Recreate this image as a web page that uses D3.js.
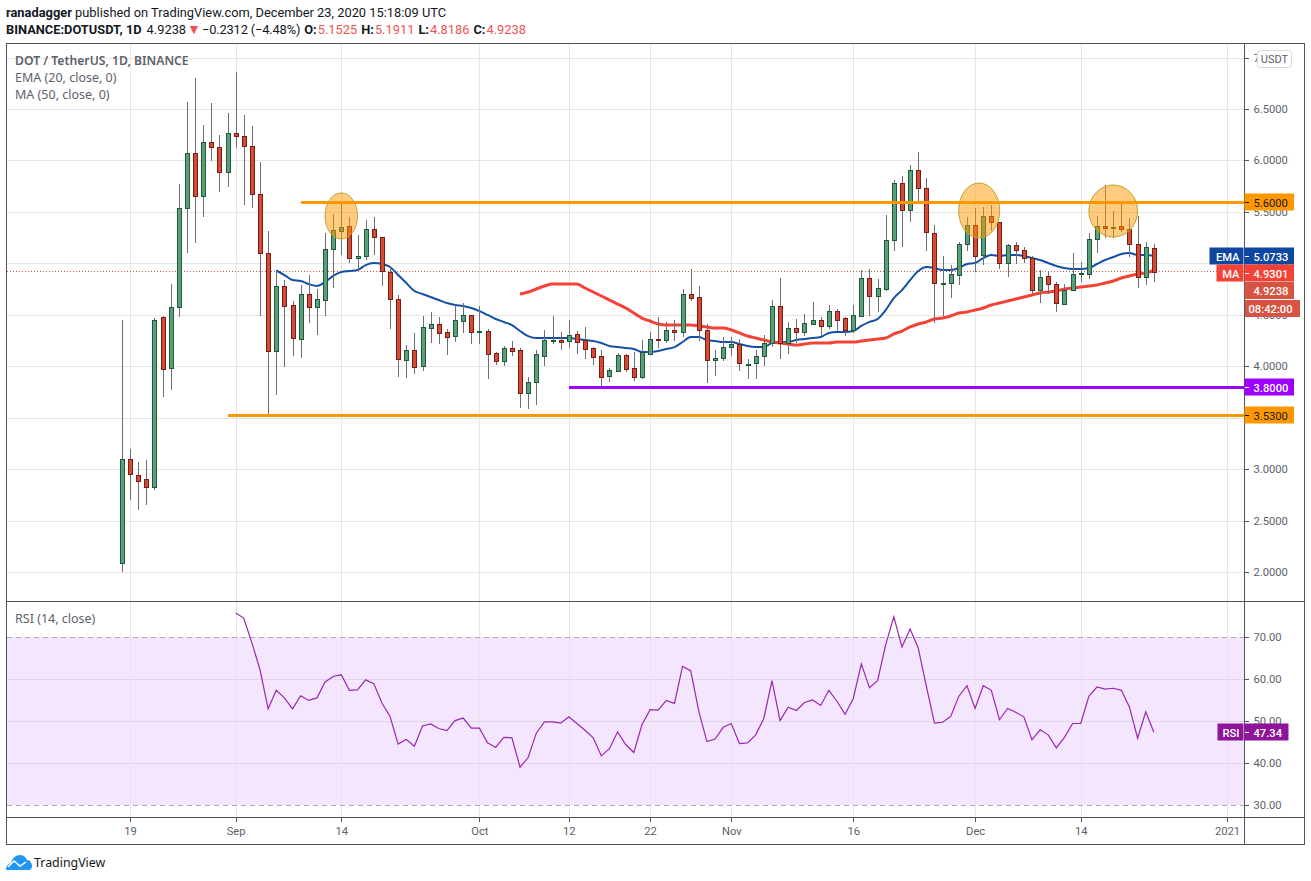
<!DOCTYPE html>
<html>
<head>
<meta charset="utf-8">
<script src="https://cdnjs.cloudflare.com/ajax/libs/d3/7.8.5/d3.min.js"></script>
<style>
  html, body { margin: 0; padding: 0; background: #fff; }
  text { font-family: "Noto Sans", sans-serif; }
</style>
</head>
<body>
<div id="chart"></div>
<script>
// daily candles, first one is 18 Aug 2020
const firstDay = "2020-08-18";
const opens = [
  2.087,3.098,2.943,2.904,2.826,4.478,3.982,4.575,5.537,6.072,
  5.654,6.179,6.130,5.887,6.266,6.237,6.140,5.673,5.100,4.147,
  4.779,4.595,4.264,4.702,4.575,4.643,5.139,5.314,5.362,5.051,
  5.071,5.333,5.255,4.915,4.653,4.060,4.157,4.002,4.371,4.410,
  4.332,4.293,4.439,4.498,4.335,4.342,4.128,4.050,4.177,4.157,
  3.740,3.846,4.099,4.245,4.255,4.245,4.313,4.255,4.177,4.099,
  3.905,3.953,4.109,3.982,3.895,4.118,4.264,4.255,4.352,4.332,
  4.702,4.672,4.352,4.060,4.079,4.186,4.216,4.016,4.031,4.099,
  4.225,4.585,4.225,4.371,4.332,4.410,4.449,4.391,4.536,4.468,
  4.352,4.488,4.857,4.682,4.750,5.226,5.780,5.518,5.907,5.732,
  5.294,4.803,4.808,4.886,5.187,5.372,5.081,5.460,5.401,5.003,
  5.178,5.129,5.051,4.740,4.877,4.798,4.604,4.740,4.891,4.896,
  5.236,5.362,5.343,5.362,5.333,5.187,4.867,5.1525];
const highs = [
  4.449,3.195,3.069,3.088,4.468,4.488,4.798,5.771,6.568,6.801,
  6.344,6.558,6.247,6.461,6.859,6.441,6.334,5.984,5.314,4.935,
  4.837,4.633,4.789,4.886,4.750,5.294,5.479,5.576,5.450,5.275,
  5.421,5.450,5.260,4.964,4.692,4.206,4.323,4.488,4.527,4.478,
  4.361,4.595,4.614,4.500,4.585,4.361,4.138,4.196,4.245,4.177,
  3.895,4.157,4.352,4.488,4.332,4.449,4.342,4.381,4.186,4.157,
  3.982,4.128,4.118,4.138,4.255,4.332,4.478,4.430,4.449,4.750,
  4.945,4.779,4.410,4.157,4.284,4.284,4.264,4.070,4.157,4.303,
  4.643,4.857,4.430,4.459,4.507,4.624,4.478,4.595,4.556,4.478,
  4.595,4.935,4.945,4.847,5.469,5.809,5.848,5.955,6.082,5.829,
  5.372,5.071,4.983,5.207,5.450,5.537,5.547,5.567,5.401,5.187,
  5.207,5.158,5.071,4.935,4.925,4.818,4.798,5.100,5.013,5.294,
  5.460,5.761,5.508,5.576,5.440,5.460,5.207,5.1911];
const lows = [
  2.000,2.700,2.603,2.651,2.797,3.701,3.769,4.478,5.100,5.197,
  5.450,5.994,5.693,5.741,6.120,5.567,5.537,4.488,3.535,3.720,
  3.992,4.099,4.079,4.420,4.303,4.488,4.760,5.081,5.003,4.935,
  5.032,5.081,4.779,4.361,3.895,3.885,3.924,3.953,4.225,4.216,
  4.109,4.235,4.323,4.216,4.216,3.876,4.011,4.002,4.099,3.594,
  3.584,3.623,4.002,4.216,4.157,4.177,4.118,4.070,4.011,3.788,
  3.846,3.943,3.943,3.856,3.876,4.110,4.177,4.225,4.245,4.284,
  4.633,4.245,3.837,3.905,4.050,4.099,3.953,3.876,3.876,4.002,
  4.186,4.070,4.118,4.225,4.293,4.410,4.293,4.361,4.342,4.293,
  4.323,4.478,4.488,4.527,4.731,5.120,5.158,5.401,5.596,5.120,
  4.420,4.488,4.662,4.789,5.120,4.915,4.983,5.314,4.945,4.867,
  4.993,5.003,4.702,4.614,4.702,4.527,4.600,4.731,4.818,4.847,
  5.100,5.246,5.246,5.304,5.061,4.760,4.789,4.8186];
const closes = [
  3.098,2.952,2.884,2.826,4.449,3.973,4.575,5.537,6.072,5.654,
  6.179,6.130,5.887,6.266,6.237,6.140,5.673,5.100,4.147,4.779,
  4.585,4.274,4.702,4.575,4.653,5.139,5.324,5.353,5.051,5.071,
  5.333,5.255,4.925,4.653,4.070,4.157,3.992,4.381,4.410,4.323,
  4.284,4.449,4.498,4.332,4.342,4.118,4.050,4.177,4.147,3.740,
  3.846,4.118,4.255,4.255,4.235,4.303,4.235,4.167,4.089,3.895,
  3.963,4.109,3.973,3.895,4.138,4.264,4.259,4.352,4.332,4.702,
  4.662,4.352,4.060,4.079,4.186,4.216,4.031,4.026,4.099,4.225,
  4.585,4.225,4.371,4.332,4.420,4.449,4.391,4.536,4.449,4.352,
  4.498,4.857,4.682,4.760,5.226,5.780,5.518,5.907,5.732,5.304,
  4.808,4.813,4.896,5.187,5.372,5.071,5.460,5.401,5.003,5.178,
  5.129,5.051,4.740,4.867,4.798,4.614,4.740,4.896,4.901,5.236,
  5.362,5.343,5.353,5.333,5.187,4.867,5.158,4.9238];

// EMA 20 starts at candle 19, MA 50 at candle 49, RSI at candle 14
const emaFirst = 19;
const emaValues = [
  4.930,4.886,4.837,4.828,4.798,4.779,4.818,4.877,4.915,4.925,4.935,
  4.983,5.003,4.993,4.964,4.886,4.808,4.731,4.702,4.672,4.643,
  4.614,4.595,4.585,4.566,4.536,4.498,4.459,4.430,4.400,4.342,
  4.293,4.274,4.274,4.274,4.274,4.274,4.264,4.255,4.245,4.225,
  4.196,4.186,4.177,4.167,4.138,4.138,4.147,4.167,4.186,4.235,
  4.284,4.284,4.255,4.245,4.235,4.235,4.216,4.196,4.186,4.186,
  4.225,4.235,4.235,4.255,4.264,4.274,4.284,4.323,4.332,4.332,
  4.342,4.391,4.430,4.459,4.546,4.662,4.740,4.837,4.925,4.964,
  4.954,4.935,4.935,4.954,4.993,5.003,5.051,5.081,5.071,5.081,
  5.081,5.071,5.051,5.032,5.003,4.974,4.954,4.945,4.945,4.954,
  4.993,5.032,5.061,5.090,5.100,5.081,5.081,5.0733];
const maFirst = 49;
const maValues = [
  4.702,4.721,4.750,4.779,4.798,4.798,4.798,4.798,4.760,4.721,4.682,
  4.643,4.604,4.566,4.517,4.468,4.439,4.410,4.400,4.400,4.400,
  4.400,4.391,4.381,4.371,4.371,4.352,4.323,4.293,4.274,4.255,
  4.235,4.225,4.216,4.206,4.216,4.225,4.225,4.225,4.235,4.235,
  4.235,4.245,4.255,4.264,4.274,4.313,4.342,4.381,4.410,4.430,
  4.459,4.468,4.488,4.517,4.527,4.546,4.566,4.595,4.614,4.633,
  4.653,4.672,4.692,4.711,4.721,4.731,4.750,4.760,4.769,4.779,
  4.789,4.808,4.828,4.857,4.877,4.896,4.906,4.9301];
const rsiFirst = 14;
const rsiValues = [
  75.7,74.5,68.6,62.2,52.9,57.3,55.5,52.9,56.0,54.9,55.5,59.3,60.6,61.0,57.3,57.4,59.8,58.9,54.3,51.1,
  44.5,45.6,44.0,48.8,49.3,48.2,47.7,50.1,50.7,48.3,48.3,44.8,43.7,46.1,46.0,39.0,41.3,47.1,49.8,49.8,
  49.5,51.0,49.4,47.8,46.0,41.7,43.4,47.4,44.4,42.5,49.1,52.7,52.6,54.9,54.2,63.0,62.0,52.3,45.1,45.7,
  48.5,49.4,44.6,44.8,46.7,50.6,59.6,50.1,53.3,52.5,54.4,55.0,53.7,57.3,54.7,51.6,55.3,63.6,57.9,59.6,
  68.2,74.8,67.6,71.9,67.4,58.3,49.5,49.7,51.1,55.9,58.4,53.0,58.4,57.3,50.3,53.0,52.1,51.0,45.5,47.9,
  46.7,43.6,46.1,49.4,49.4,55.9,58.1,57.6,57.8,57.3,53.3,45.9,52.2,47.34];

const priceTicks = [2, 2.5, 3, 3.5, 4, 4.5, 5, 5.5, 6, 6.5, 7];
const rsiTicks = [30, 40, 50, 60, 70];
const timeTickDates = ["2020-08-19","2020-09-01","2020-09-14","2020-10-01","2020-10-12","2020-10-22","2020-11-01","2020-11-16","2020-12-01","2020-12-14","2021-01-01"];
const timeTickLabels = ["19","Sep","14","Oct","12","22","Nov","16","Dec","14","2021"];

// drawn levels and the circles round the three tops
const levelPrices = [5.6, 3.8, 3.53];
const levelStarts = ["2020-09-09", "2020-10-12", "2020-08-31"];
const topDates = ["2020-09-14T00:00Z", "2020-12-01T12:00Z", "2020-12-18T00:00Z"];
const topPrices = [5.46, 5.513, 5.508];
const topHalfDays = [2.0, 2.53, 3.0];
const topHalfPrices = [0.2235, 0.267, 0.253];

const lastClose = 4.9238, lastEma = 5.0733, lastMa = 4.9301, lastRsi = 47.34;
const headerOhlc = [["O:", "5.1525"], ["H:", "5.1911"], ["L:", "4.8186"], ["C:", "4.9238"]];

const width = 1311, height = 881;
const leftX = 6.5, rightX = 1304.5, axisX = 1244.5;
const topY = 43.5, splitY = 601.5, timeY = 817.5, bottomY = 844.5;

const colorGrid = "#e6e6e6", colorFrame = "#50535e", colorText = "#5d606b";
const colorUp = "#5c9e79", colorUpDark = "#1d5a3a", colorDown = "#d24b37", colorDownDark = "#7c1c14";
const colorOrange = "#ff9800", colorPurple = "#9c00ff", colorEma = "#1450a8", colorMa = "#f44336", colorLast = "#d75442", colorRsi = "#9c27b0";
const axisFont = "Roboto, sans-serif";
const axisSize = "11.2px";

const day = d => d3.utcDay.offset(new Date(firstDay + "T00:00Z"), d);
const candles = opens.map((o, i) => ({date: day(i), o: o, h: highs[i], l: lows[i], c: closes[i]}));

const x = d3.scaleUtc()
    .domain([new Date("2020-08-19T00:00Z"), new Date("2021-01-01T00:00Z")])
    .range([130, 1227]);
const y = d3.scaleLinear().domain([2, 7]).range([572, 57.5]);
const yRsi = d3.scaleLinear().domain([30, 70]).range([805, 637]);
const dayWidth = x(day(1)) - x(day(0));

const svg = d3.select("#chart").append("svg")
    .attr("width", width)
    .attr("height", height)
    .style("display", "block");

svg.append("clipPath").attr("id", "main").append("rect")
    .attr("x", leftX).attr("y", topY).attr("width", axisX - leftX).attr("height", splitY - topY);

// rsi band first, the grid goes on top of it
svg.append("rect")
    .attr("x", leftX).attr("width", axisX - leftX)
    .attr("y", yRsi(70)).attr("height", yRsi(30) - yRsi(70))
    .attr("fill", "#f4e6fe");

// grid
const snap = v => Math.round(v) + 0.5;
const grid = svg.append("g").attr("stroke-width", 1).attr("shape-rendering", "crispEdges");
grid.selectAll(".v").data(timeTickDates).join("line")
    .attr("x1", d => snap(x(new Date(d + "T00:00Z")))).attr("x2", d => snap(x(new Date(d + "T00:00Z"))))
    .attr("y1", topY).attr("y2", timeY)
    .attr("stroke", colorGrid);
grid.selectAll(".h").data(priceTicks).join("line")
    .attr("x1", leftX).attr("x2", axisX)
    .attr("y1", d => snap(y(d))).attr("y2", d => snap(y(d)))
    .attr("stroke", colorGrid);
grid.selectAll(".r").data(rsiTicks.slice(1, -1)).join("line")
    .attr("x1", leftX).attr("x2", axisX)
    .attr("y1", d => snap(yRsi(d))).attr("y2", d => snap(yRsi(d)))
    .attr("stroke", "#e2d3ec");
grid.selectAll(".band").data([30, 70]).join("line")
    .attr("x1", leftX).attr("x2", axisX)
    .attr("y1", d => snap(yRsi(d))).attr("y2", d => snap(yRsi(d)))
    .attr("stroke", "#b0a6b6")
    .attr("stroke-dasharray", "5,4");

const main = svg.append("g").attr("clip-path", "url(#main)");

// close price dotted line
main.append("line")
    .attr("x1", leftX).attr("x2", axisX)
    .attr("y1", snap(y(lastClose))).attr("y2", snap(y(lastClose)))
    .attr("stroke", colorLast)
    .attr("stroke-dasharray", "1,2")
    .attr("shape-rendering", "crispEdges");

// moving averages
const maLine = first => d3.line()
    .x((d, i) => x(day(first + i)))
    .y(d => y(d))
    .curve(d3.curveMonotoneX);
main.append("path").attr("d", maLine(emaFirst)(emaValues))
    .attr("fill", "none").attr("stroke", colorEma).attr("stroke-width", 2);
main.append("path").attr("d", maLine(maFirst)(maValues))
    .attr("fill", "none").attr("stroke", colorMa).attr("stroke-width", 3);

// candles
const candle = main.append("g").attr("shape-rendering", "crispEdges")
    .selectAll("g").data(candles).join("g");
candle.append("line")
    .attr("x1", d => snap(x(d.date))).attr("x2", d => snap(x(d.date)))
    .attr("y1", d => y(d.h)).attr("y2", d => y(d.l))
    .attr("stroke", "#6e6e6e");
candle.append("rect")
    .attr("x", d => snap(x(d.date)) - 2)
    .attr("width", 4)
    .attr("y", d => Math.round(y(Math.max(d.o, d.c))) + 0.5)
    .attr("height", d => Math.max(1, Math.round(Math.abs(y(d.o) - y(d.c)))))
    .attr("fill", d => d.c >= d.o ? colorUp : colorDown)
    .attr("stroke", d => d.c >= d.o ? colorUpDark : colorDownDark);

// levels
main.selectAll(".level").data(levelPrices).join("line")
    .attr("x1", (d, i) => x(new Date(levelStarts[i] + "T00:00Z")))
    .attr("x2", axisX)
    .attr("y1", d => snap(y(d))).attr("y2", d => snap(y(d)))
    .attr("stroke", (d, i) => i === 1 ? colorPurple : colorOrange)
    .attr("stroke-width", 3)
    .attr("shape-rendering", "crispEdges");

// circled tops
main.selectAll("ellipse").data(topPrices).join("ellipse")
    .attr("cx", (d, i) => x(new Date(topDates[i])))
    .attr("cy", d => y(d))
    .attr("rx", (d, i) => topHalfDays[i] * dayWidth)
    .attr("ry", (d, i) => y(d - topHalfPrices[i]) - y(d))
    .attr("fill", colorOrange)
    .attr("fill-opacity", 0.5)
    .attr("stroke", "#c2a22a")
    .attr("stroke-width", 1);

// rsi line
svg.append("path")
    .attr("d", d3.line().x((d, i) => x(day(rsiFirst + i))).y(d => yRsi(d))(rsiValues))
    .attr("fill", "none").attr("stroke", colorRsi).attr("stroke-width", 1.2);

// frame
const frame = svg.append("g").attr("fill", "none").attr("stroke", colorFrame).attr("shape-rendering", "crispEdges");
frame.append("rect").attr("x", leftX).attr("y", topY).attr("width", rightX - leftX).attr("height", bottomY - topY);
frame.append("line").attr("x1", leftX).attr("x2", rightX).attr("y1", splitY).attr("y2", splitY);
frame.append("line").attr("x1", leftX).attr("x2", rightX).attr("y1", timeY).attr("y2", timeY);
frame.append("line").attr("x1", axisX).attr("x2", axisX).attr("y1", topY).attr("y2", bottomY);

// axes
const styleAxis = g => {
  g.select(".domain").remove();
  g.selectAll("line").attr("stroke", colorFrame).attr("shape-rendering", "crispEdges");
  g.selectAll("text").attr("fill", colorText).style("font-family", axisFont).style("font-size", axisSize);
};
svg.append("g").attr("transform", `translate(${axisX},0)`)
    .call(d3.axisRight(y).tickValues(priceTicks).tickFormat(d3.format(".4f")).tickSize(4).tickPadding(5))
    .call(styleAxis);
svg.append("g").attr("transform", `translate(${axisX},0)`)
    .call(d3.axisRight(yRsi).tickValues(rsiTicks).tickFormat(d3.format(".2f")).tickSize(4).tickPadding(5))
    .call(styleAxis);
svg.append("g").attr("transform", `translate(0,${timeY})`)
    .call(d3.axisBottom(x).tickValues(timeTickDates.map(d => new Date(d + "T00:00Z")))
        .tickFormat((d, i) => timeTickLabels[i]).tickSize(4).tickPadding(6))
    .call(styleAxis);

// price labels on the axis
const tagText = (tx, ty, txt, ink, anchor) => svg.append("text")
    .attr("x", tx).attr("y", ty).attr("fill", ink).attr("text-anchor", anchor || "start")
    .style("font-family", axisFont).style("font-size", axisSize)
    .style("font-weight", ink === "#fff" ? 500 : 400)
    .text(txt);
const priceTag = (value, fill, ink, label, push) => {
  const cy = Math.round(y(value)) + (push || 0);
  svg.append("rect").attr("x", axisX).attr("y", cy - 8.5).attr("width", 49.5).attr("height", 17).attr("fill", fill);
  svg.append("line").attr("x1", axisX).attr("x2", axisX + 4).attr("y1", cy + 0.5).attr("y2", cy + 0.5)
      .attr("stroke", ink).attr("shape-rendering", "crispEdges");
  tagText(axisX + 9, cy + 4.5, d3.format(".4f")(value), ink);
  if (label) {
    const w = label === "EMA" ? 34 : 27;
    svg.append("rect").attr("x", axisX - w - 1).attr("y", cy - 8.5).attr("width", w).attr("height", 17).attr("fill", fill);
    tagText(axisX - 5, cy + 4.5, label, "#fff", "end");
  }
};
priceTag(5.6, colorOrange, "#131722");
priceTag(3.8, colorPurple, "#fff");
priceTag(3.53, colorOrange, "#131722");
priceTag(lastEma, "#0d47a1", "#fff", "EMA");
priceTag(lastMa, colorMa, "#fff", "MA", 3);
// last price tag sits under the MA one, with the countdown below it
const lastTop = 282;
svg.append("rect").attr("x", axisX).attr("y", lastTop).attr("width", 49.5).attr("height", 17).attr("fill", colorLast);
tagText(axisX + 9, lastTop + 13, d3.format(".4f")(lastClose), "#fff");
svg.append("rect").attr("x", axisX + 0.5).attr("y", lastTop + 18).attr("width", 55).attr("height", 17).attr("fill", colorLast);
tagText(axisX + 4, lastTop + 31, "08:42:00", "#fff");

// rsi value tag
const rsiY = Math.round(yRsi(lastRsi));
svg.append("rect").attr("x", axisX).attr("y", rsiY - 8.5).attr("width", 44).attr("height", 17).attr("fill", "#8e1599");
svg.append("rect").attr("x", axisX - 27).attr("y", rsiY - 8.5).attr("width", 26).attr("height", 17).attr("fill", "#8e1599");
svg.append("line").attr("x1", axisX).attr("x2", axisX + 4).attr("y1", rsiY + 0.5).attr("y2", rsiY + 0.5)
    .attr("stroke", "#fff").attr("shape-rendering", "crispEdges");
tagText(axisX + 9, rsiY + 4.5, lastRsi.toFixed(2), "#fff");
tagText(axisX - 5, rsiY + 4.5, "RSI", "#fff", "end");

// currency button covers the top tick label
svg.append("rect").attr("x", 1257.5).attr("y", 50.5).attr("width", 34).attr("height", 17).attr("rx", 3)
    .attr("fill", "#fff").attr("stroke", "#d6d8e4");
svg.append("text").attr("x", 1274.5).attr("y", 63).attr("text-anchor", "middle").attr("fill", colorText)
    .style("font-family", axisFont).style("font-size", "11px").text("USDT");

// legends
const legend = [["DOT / TetherUS, 1D, BINANCE", 65, 600, 12.2], ["EMA (20, close, 0)", 82, 400, 12.5], ["MA (50, close, 0)", 99, 400, 12.5], ["RSI (14, close)", 623, 400, 12.5]];
svg.selectAll(".legend").data(legend).join("text")
    .attr("x", 15).attr("y", d => d[1])
    .attr("fill", colorText)
    .style("font-size", d => d[3] + "px")
    .style("font-weight", d => d[2])
    .text(d => d[0]);

// header
const headFont = "Roboto, sans-serif";
svg.append("text").attr("x", 6).attr("y", 17).attr("fill", "#131722").style("font-family", headFont).style("font-size", "12.85px")
    .call(t => t.append("tspan").style("font-weight", 700).text("ranadagger"))
    .call(t => t.append("tspan").text(" published on TradingView.com, December 23, 2020 15:18:09 UTC"));
const head = svg.append("text").attr("x", 6).attr("y", 34).attr("fill", "#131722").style("font-family", headFont).style("font-size", "12.85px");
head.append("tspan").style("font-weight", 700).text("BINANCE:DOTUSDT, 1D");
head.append("tspan").attr("dx", 5).text("4.9238");
head.append("tspan").attr("dx", 1).attr("fill", "#ef5350").style("font-size", "14px").text("▼");
head.append("tspan").attr("dx", 1).style("letter-spacing", "-0.15px").text("−0.2312 (−4.48%)");
headerOhlc.forEach(d => {
  head.append("tspan").attr("dx", 4).style("font-weight", 700).text(d[0]);
  head.append("tspan").attr("fill", "#ef5350").attr("dx", 1).text(d[1]);
});

// logo
const logo = svg.append("g").attr("transform", "translate(6,855)");
logo.append("path")
    .attr("d", "M0,15 C0,11 2,9 5,8 C6,3 10,0 14,0 C17,0 20,2 21,5 C24,5 26,8 26,11 C26,13 25,15 23,15 Z")
    .attr("fill", "#2196f3");
logo.append("path")
    .attr("d", "M2,12 L8,6 L14,11 L20,7")
    .attr("fill", "none").attr("stroke", "#fff").attr("stroke-width", 1.5);
svg.append("text").attr("x", 34).attr("y", 867).attr("fill", "#131722").style("font-size", "12.4px").text("TradingView");
</script>
</body>
</html>
